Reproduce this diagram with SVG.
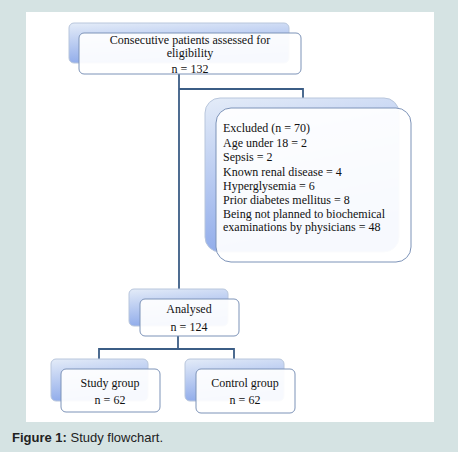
<svg xmlns="http://www.w3.org/2000/svg" width="458" height="452" viewBox="0 0 458 452">
<defs>
<linearGradient id="bg" x1="0" y1="0" x2="0.25" y2="1">
<stop offset="0" stop-color="#e4ecf8"/>
<stop offset="1" stop-color="#8eaaea"/>
</linearGradient>
<style>
.back{fill:url(#bg);stroke:#b8c6dc;stroke-width:1}
.front{fill:#ffffff;fill-opacity:0.93;stroke:#7d93b8;stroke-width:1}
.t{font-family:"Liberation Serif","Times New Roman",serif;font-size:12px;fill:#111}
.c{text-anchor:middle}
.conn{fill:none;stroke:#3b5d85;stroke-width:1.8}
.cap{font-family:"Liberation Sans",Arial,sans-serif;font-size:13px;fill:#222}
</style>
</defs>
<rect x="0" y="0" width="458" height="452" fill="#d5e3e3"/>
<rect x="26" y="12" width="408" height="410" fill="#ffffff"/>
<g id="connectors">
<path class="conn" d="M179 74 V289"/>
<path class="conn" d="M179 89 H303 V98"/>
<path class="conn" d="M178 336 V349"/>
<path class="conn" d="M99 359 V349 H234 V359"/>
</g>
<g id="n-assessed">
<rect class="back" x="69" y="23" width="220" height="40" rx="5"/>
<rect class="front" x="79" y="33" width="222" height="41" rx="5"/>
<text class="t c" x="190" y="44">Consecutive patients assessed for</text>
<text class="t c" x="190" y="57">eligibility</text>
<text class="t c" x="190" y="73">n = 132</text>
</g>
<g id="n-excluded">
<rect class="back" x="205" y="98" width="194" height="154" rx="15"/>
<rect class="front" x="216" y="108" width="195" height="154" rx="15"/>
<text class="t" x="223" y="132">Excluded (n = 70)</text>
<text class="t" x="223" y="147">Age under 18 = 2</text>
<text class="t" x="223" y="161">Sepsis = 2</text>
<text class="t" x="223" y="176">Known renal disease = 4</text>
<text class="t" x="223" y="190">Hyperglysemia = 6</text>
<text class="t" x="223" y="204">Prior diabetes mellitus = 8</text>
<text class="t" x="223" y="218">Being not planned to biochemical</text>
<text class="t" x="223" y="231">examinations by physicians = 48</text>
</g>
<g id="n-analysed">
<rect class="back" x="129" y="289" width="99" height="37" rx="5"/>
<rect class="front" x="140" y="299" width="99" height="37" rx="5"/>
<text class="t c" x="189" y="313">Analysed</text>
<text class="t c" x="189" y="331">n = 124</text>
</g>
<g id="n-study">
<rect class="back" x="51" y="359" width="97" height="42" rx="5"/>
<rect class="front" x="61" y="369" width="99" height="43" rx="5"/>
<text class="t c" x="110" y="387">Study group</text>
<text class="t c" x="110" y="404">n = 62</text>
</g>
<g id="n-control">
<rect class="back" x="185" y="359" width="99" height="42" rx="5"/>
<rect class="front" x="196" y="369" width="99" height="44" rx="5"/>
<text class="t c" x="245" y="387">Control group</text>
<text class="t c" x="245" y="404">n = 62</text>
</g>
<text class="cap" x="12" y="442"><tspan font-weight="bold">Figure 1:</tspan> Study flowchart.</text>
</svg>
